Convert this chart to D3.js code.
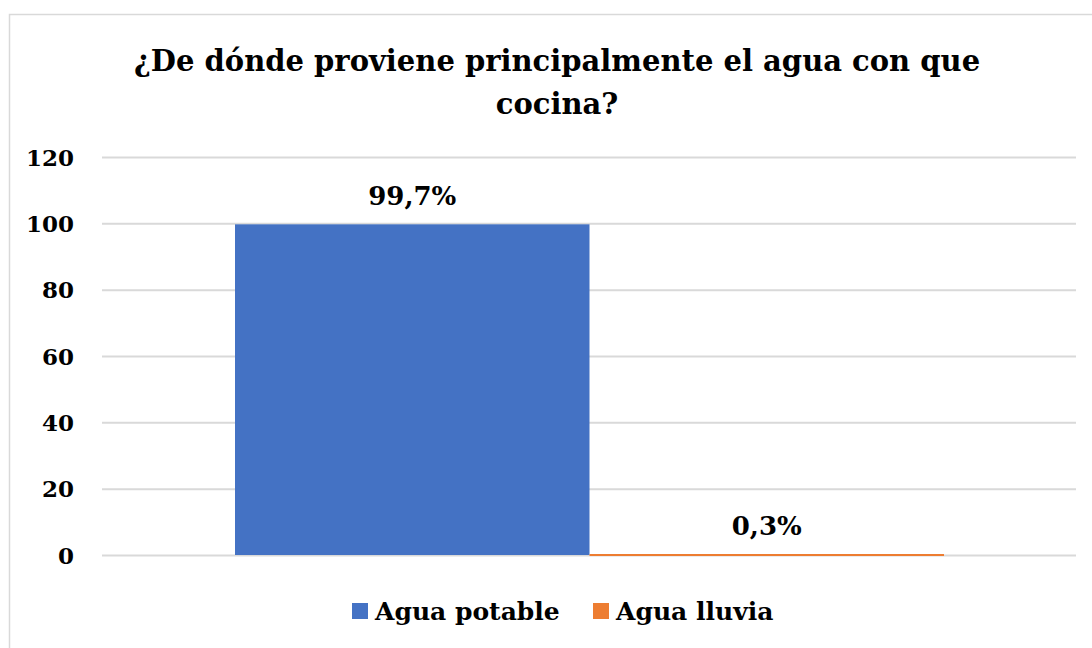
<!DOCTYPE html>
<html><head><meta charset="utf-8">
<script src="https://cdn.jsdelivr.net/npm/d3@7"></script>
<style>body{margin:0;background:#fff}svg{display:block}</style>
</head><body>
<script>
const categories = ["Agua potable", "Agua lluvia"];
const values = [99.7, 0.3];
const labels = ["99,7%", "0,3%"];
const colors = ["#4472C4", "#ED7D31"];
const yTicks = [0, 20, 40, 60, 80, 100, 120];
const titleLines = ["¿De dónde proviene principalmente el agua con que", "cocina?"];

const FONT = "'DejaVu Serif', serif";
const W = 1092, H = 648;
const svg = d3.select("body").append("svg").attr("width", W).attr("height", H)
  .style("font-family", FONT).style("font-weight", "bold");
svg.append("rect").attr("x", 9.5).attr("y", 14.5).attr("width", 1100).attr("height", 700)
  .attr("fill", "#fff").attr("stroke", "#d9d9d9").attr("stroke-width", 1.5);

const x = d3.scaleBand().domain(categories).range([235, 944]).padding(0);
const y = d3.scaleLinear().domain([0, 120]).range([555, 157]);

svg.append("g").selectAll("text").data(titleLines).join("text")
  .attr("x", 557).attr("y", (d, i) => 71 + i * 43).attr("text-anchor", "middle")
  .style("font-family", FONT).style("font-weight", "bold")
  .attr("font-size", 29).text(d => d);

const yAxis = d3.axisLeft(y).tickValues(yTicks).tickSize(-(1076 - 102)).tickPadding(28);
const g = svg.append("g").attr("transform", "translate(102,0)").call(yAxis);
g.attr("font-family", null);
g.select(".domain").remove();
g.selectAll(".tick line").attr("stroke", "#d9d9d9").attr("stroke-width", 2);
g.selectAll(".tick text").attr("font-size", 23).style("font-family", FONT).style("font-weight", "bold").attr("fill", "#000").attr("dy", "0.36em");

svg.append("g").selectAll("rect").data(categories).join("rect")
  .attr("x", d => x(d)).attr("width", x.bandwidth())
  .attr("y", (d, i) => y(values[i]))
  .attr("height", (d, i) => Math.max(y(0) - y(values[i]), 2))
  .attr("fill", (d, i) => colors[i]);

svg.append("g").selectAll("text").data(categories).join("text")
  .attr("x", d => x(d) + x.bandwidth() / 2)
  .attr("y", (d, i) => y(values[i]) - 19)
  .attr("text-anchor", "middle").attr("font-size", 26)
  .style("font-family", FONT).style("font-weight", "bold")
  .text((d, i) => labels[i]);

const legX = [352, 593];
const lg = svg.append("g").selectAll("g").data(categories).join("g")
  .attr("transform", (d, i) => `translate(${legX[i]},603)`);
lg.append("rect").attr("width", 16).attr("height", 16).attr("fill", (d, i) => colors[i]);
lg.append("text").attr("x", 23).attr("y", 17).attr("font-size", 25)
  .style("font-family", FONT).style("font-weight", "bold").text(d => d);
</script>
</body></html>
